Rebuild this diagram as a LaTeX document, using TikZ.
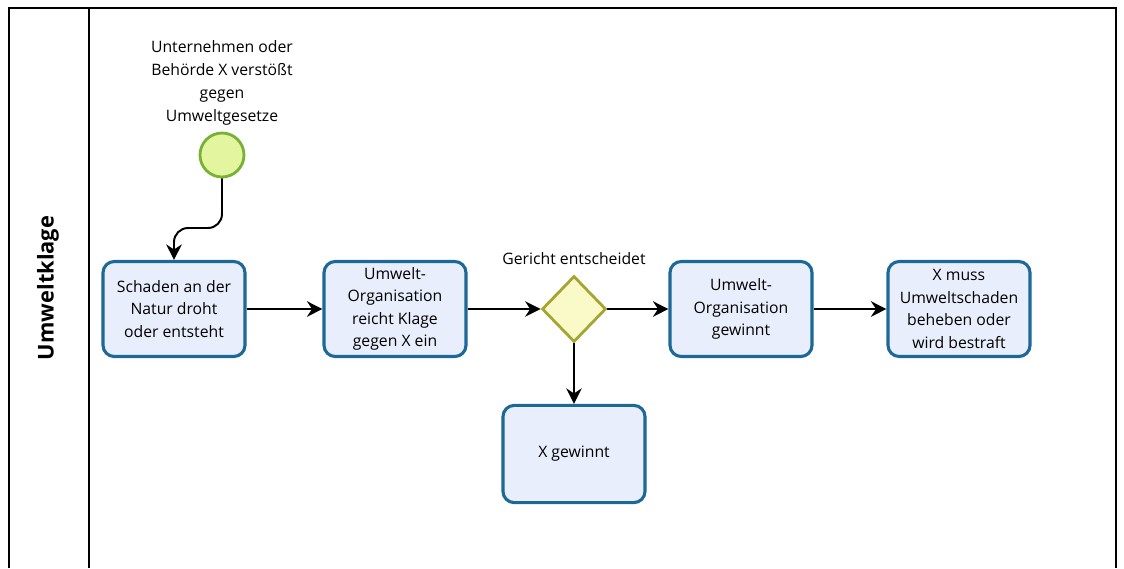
\documentclass[tikz,border=0pt]{standalone}
\usepackage{fontspec}
\setmainfont{Open Sans}
\usetikzlibrary{arrows.meta,shapes.geometric}
\definecolor{taskfill}{RGB}{232,238,251}
\definecolor{taskline}{RGB}{28,104,150}
\definecolor{startfill}{RGB}{228,245,160}
\definecolor{startline}{RGB}{120,178,52}
\definecolor{gatefill}{RGB}{250,250,200}
\definecolor{gateline}{RGB}{165,165,50}
\tikzset{
	task/.style={draw=taskline, fill=taskfill, line width=2.2pt, rounded corners=8pt,
		minimum width=3.55cm, minimum height=2.375cm, align=center, font=\fontsize{11.2}{16}\selectfont},
	flow/.style={line width=1.4pt, -{Stealth[length=11pt,width=11pt]}},
}

\begin{document}
\begin{tikzpicture}[x=0.025cm,y=-0.025cm]
		%%%%% START %%%%%
		
		\useasboundingbox (0,0) rectangle (1124,568);
		
		\draw[line width=1.2pt] (9,568) -- (9,8) -- (1116,8) -- (1116,568);
		\draw[line width=1.2pt] (89,8) -- (89,568);
		\node[rotate=90, font=\bfseries\fontsize{15.5}{18}\selectfont] (lane) at (48,288) {Umweltklage};
		
		\node[circle, draw=startline, fill=startfill, line width=2pt, minimum size=1.1cm] (start) at (222,155) {};
		\node[align=center, font=\fontsize{11.2}{16.3}\selectfont, anchor=south] (starttext) at (222,130)
			{Unternehmen oder\\Behörde X verstößt\\gegen\\Umweltgesetze};
		
		\node[task] (schaden) at (174,309) {Schaden an der\\Natur droht\\oder entsteht};
		\node[task] (klage) at (395,309) {Umwelt-\\Organisation\\reicht Klage\\gegen X ein};
		\node[diamond, draw=gateline, fill=gatefill, line width=2pt, minimum width=1.6cm, minimum height=1.65cm, inner sep=0pt] (gericht) at (574,309) {};
		\node[font=\fontsize{11.2}{16}\selectfont, anchor=south] (gerichttext) at (574,270) {Gericht entscheidet};
		\node[task] (orgwin) at (741,309) {Umwelt-\\Organisation\\gewinnt};
		\node[task] (beheben) at (959,309) {X muss\\Umweltschaden\\beheben oder\\wird bestraft};
		\node[task, minimum height=2.43cm] (xwin) at (574,454) {X gewinnt};
		
		\draw[flow, rounded corners=10pt] (start.south) -- (222,228) -- (174,228) -- (schaden.north);
		\draw[flow] (schaden) -- (klage);
		\draw[flow] (klage) -- (gericht);
		\draw[flow] (gericht) -- (orgwin);
		\draw[flow] (orgwin) -- (beheben);
		\draw[flow] (gericht) -- (xwin);
		
		%%%%% END %%%%%
	\end{tikzpicture}
\end{document}
